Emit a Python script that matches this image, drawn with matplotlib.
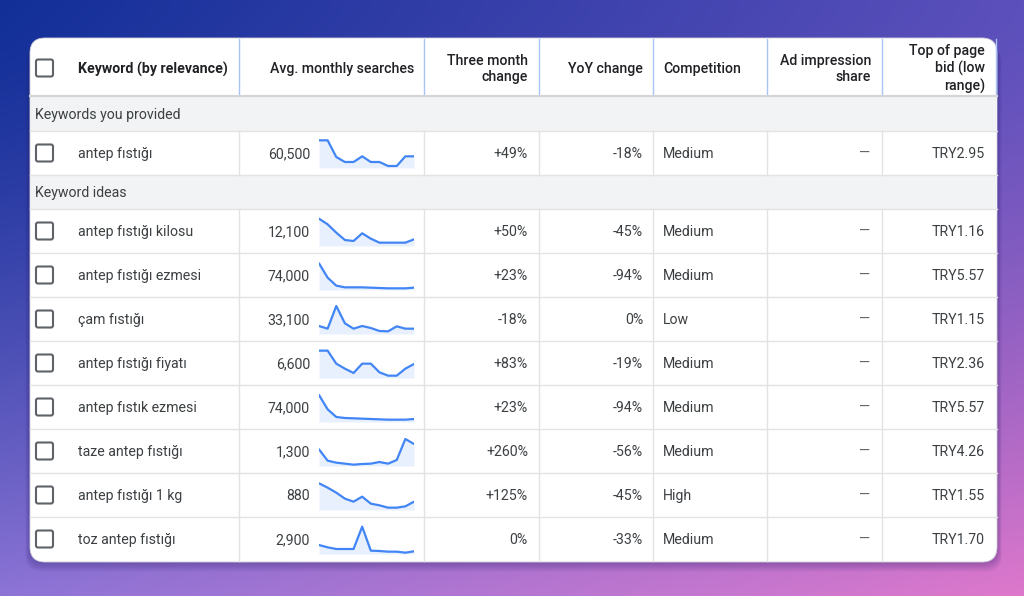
import matplotlib
import numpy as np

matplotlib.use("Agg")
import matplotlib.pyplot as plt
from matplotlib.patches import FancyBboxPatch, Rectangle

plt.rcParams["font.family"] = ["Roboto", "DejaVu Sans"]

# ---- table data ----
keywords = [
    "antep fıstığı",
    "antep fıstığı kilosu",
    "antep fıstığı ezmesi",
    "çam fıstığı",
    "antep fıstığı fiyatı",
    "antep fıstık ezmesi",
    "taze antep fıstığı",
    "antep fıstığı 1 kg",
    "toz antep fıstığı",
]
avg_searches = ["60,500", "12,100", "74,000", "33,100", "6,600", "74,000", "1,300", "880", "2,900"]
three_month = ["+49%", "+50%", "+23%", "-18%", "+83%", "+23%", "+260%", "+125%", "0%"]
yoy_change = ["-18%", "-45%", "-94%", "0%", "-19%", "-94%", "-56%", "-45%", "-33%"]
competition = ["Medium", "Medium", "Medium", "Low", "Medium", "Medium", "Medium", "High", "Medium"]
ad_share = ["—"] * 9
top_bid = ["TRY2.95", "TRY1.16", "TRY5.57", "TRY1.15", "TRY2.36", "TRY5.57", "TRY4.26", "TRY1.55", "TRY1.70"]

monthly_trends = [
    [83, 83, 33, 18, 18, 35, 18, 18, 6, 6, 35, 35],
    [82, 65, 40, 18, 15, 38, 22, 10, 10, 10, 10, 20],
    [80, 37, 13, 8, 8, 8, 7, 6, 5, 5, 5, 7],
    [24, 16, 84, 32, 16, 24, 18, 9, 8, 23, 16, 16],
    [82, 82, 43, 28, 15, 43, 43, 17, 7, 7, 28, 42],
    [81, 38, 15, 12, 11, 10, 9, 8, 7, 7, 7, 9],
    [50, 16, 10, 7, 4, 6, 7, 12, 7, 18, 81, 66],
    [80, 67, 52, 34, 25, 40, 19, 14, 7, 7, 11, 25],
    [27, 20, 15, 15, 15, 82, 10, 9, 7, 7, 4, 8],
]

group_labels = ["Keywords you provided", "Keyword ideas"]
headers = [
    "Keyword (by relevance)",
    "Avg. monthly searches",
    "Three month\nchange",
    "YoY change",
    "Competition",
    "Ad impression\nshare",
    "Top of page\nbid (low\nrange)",
]

W, H = 1024, 596
TEXT = "#3c4043"
HEAD = "#202124"
LINE = "#e3e3e3"
BLUE = "#4285f4"
FS = 10.2
DY = 1.0  # small baseline nudge

fig = plt.figure(figsize=(W / 100, H / 100), dpi=100)
ax = fig.add_axes([0, 0, 1, 1])
ax.set_xlim(0, W)
ax.set_ylim(H, 0)
ax.axis("off")

# background gradient
tl = np.array([0x12, 0x2f, 0x98]) / 255
tr = np.array([0x5c, 0x50, 0xbc]) / 255
bl = np.array([0x8c, 0x74, 0xd6]) / 255
br = np.array([0xde, 0x78, 0xcc]) / 255
gx = np.linspace(0, 1, 256)[None, :, None]
gy = (np.linspace(0, 1, 160) ** 1.4)[:, None, None]
grad = (1 - gy) * ((1 - gx) * tl + gx * tr) + gy * ((1 - gx) * bl + gx * br)
ax.imshow(grad, extent=[0, W, H, 0], aspect="auto", zorder=0, interpolation="bilinear")

cx0, cx1, cy0, cy1 = 30, 997, 38, 562

# soft shadow under card
for i in range(1, 9):
    ax.add_patch(FancyBboxPatch((cx0 - i * 0.6, cy0 + i * 1.2), cx1 - cx0 + i * 1.2, cy1 - cy0,
                                boxstyle="round,pad=0,rounding_size=16",
                                fc="#2b1d6b", ec="none", alpha=0.045, zorder=1))

card = FancyBboxPatch((cx0, cy0), cx1 - cx0, cy1 - cy0, boxstyle="round,pad=0,rounding_size=15",
                      fc="white", ec="#d0d0d8", lw=0.6, zorder=2)
ax.add_patch(card)

col_lines = [239, 424, 539, 653, 767, 882]


def checkbox(yc):
    ax.add_patch(FancyBboxPatch((36, yc - 8.5), 17, 17, boxstyle="round,pad=0,rounding_size=2",
                                fc="white", ec="#5f6368", lw=1.5, zorder=4))


# header
head_y = 68
checkbox(head_y)
ax.text(78, head_y + DY, headers[0], fontsize=FS, fontweight="bold", color=HEAD, ha="left", va="center", zorder=5)
head_pos = [(414, "right"), (528, "right"), (643, "right"), (663, "left"), (871, "right"), (985, "right")]
for (hx, ha), label in zip(head_pos, headers[1:]):
    ax.text(hx, head_y + DY, label, fontsize=FS, fontweight="medium", color=HEAD, ha=ha, va="center",
            linespacing=1.25, multialignment=ha, zorder=5)
for x in col_lines + [996]:
    ax.plot([x, x], [cy0 + 1, 95], color="#a8c4f5", lw=1.0, zorder=4)
ax.plot([cx0, cx1], [95.5, 95.5], color="#d5d5d8", lw=1.6, zorder=4)

# body rows: (kind, top, bottom, index)
layout = [("group", 96, 131, 0), ("kw", 131, 175, 0), ("group", 175, 209, 1)]
top = 209
for k in range(1, len(keywords)):
    layout.append(("kw", top, top + 44, k))
    top += 44

for kind, y0, y1, idx in layout:
    yc = (y0 + y1) / 2 + DY
    if kind == "group":
        ax.add_patch(Rectangle((cx0 + 0.5, y0), cx1 - cx0 - 1, y1 - y0, fc="#f1f3f4", ec="none", zorder=3))
        ax.text(35, yc, group_labels[idx], fontsize=FS, color=TEXT, ha="left", va="center", zorder=5)
    else:
        for x in col_lines:
            ax.plot([x, x], [y0, y1 if y1 < cy1 else cy1 - 0.5], color=LINE, lw=1.0, zorder=4)
        checkbox(yc - DY)
        ax.text(78, yc, keywords[idx], fontsize=FS, color=TEXT, ha="left", va="center", zorder=5)
        ax.text(310, yc, avg_searches[idx], fontsize=FS, color=TEXT, ha="right", va="center", zorder=5)
        ax.text(528, yc, three_month[idx], fontsize=FS, color=TEXT, ha="right", va="center", zorder=5)
        ax.text(643, yc, yoy_change[idx], fontsize=FS, color=TEXT, ha="right", va="center", zorder=5)
        ax.text(663, yc, competition[idx], fontsize=FS, color=TEXT, ha="left", va="center", zorder=5)
        ax.text(870, yc, ad_share[idx], fontsize=FS, color="#5f6368", ha="right", va="center", zorder=5)
        ax.text(985, yc, top_bid[idx], fontsize=FS, color=TEXT, ha="right", va="center", zorder=5)

        # sparkline in its own small axes
        sx0, sx1 = 319, 414
        sb = y0 + 37
        sax = fig.add_axes([sx0 / W, 1 - sb / H, (sx1 - sx0) / W, 30 / H])
        months = np.arange(len(monthly_trends[idx]))
        vals = monthly_trends[idx]
        sax.fill_between(months, vals, 0, color="#e8f0fe", lw=0)
        sax.plot(months, vals, color=BLUE, lw=1.6, solid_joinstyle="round", solid_capstyle="round")
        sax.set_xlim(0, 11)
        sax.set_ylim(0, 90)
        sax.axis("off")
        sax.patch.set_alpha(0)
    if y1 < cy1 - 2:
        ax.plot([cx0, cx1], [y1, y1], color=LINE, lw=1.0, zorder=4)

fig.savefig("out.png", dpi=100)
